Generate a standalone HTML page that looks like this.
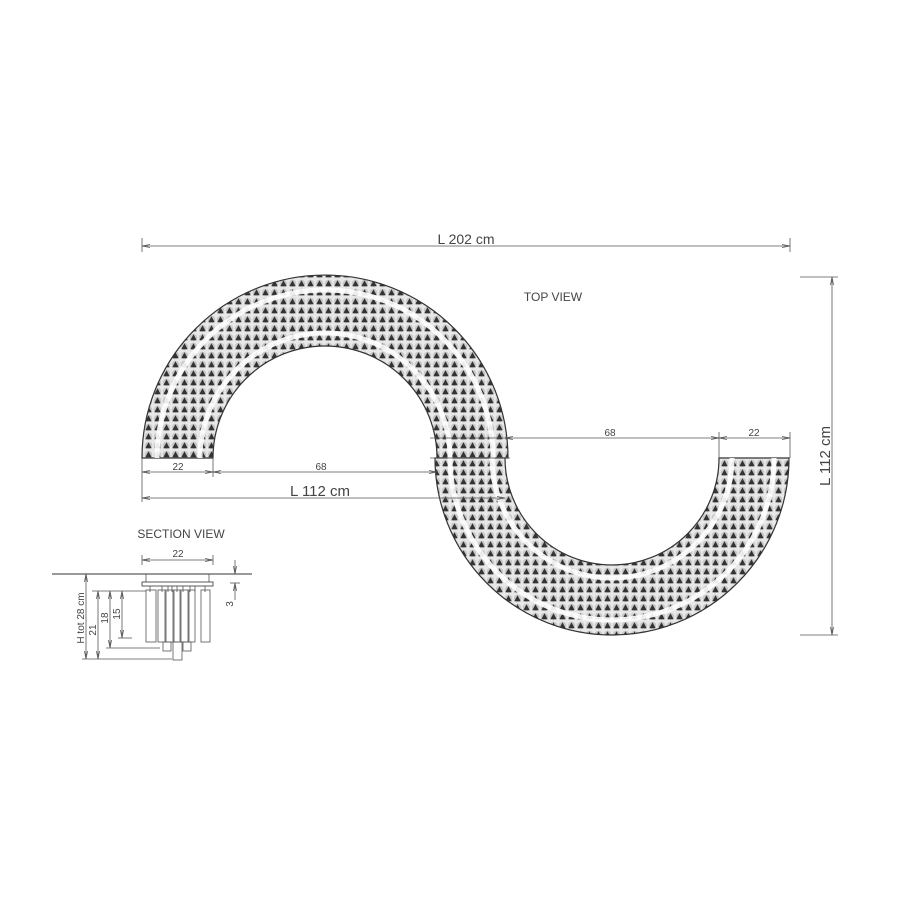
<!DOCTYPE html>
<html><head><style>body{margin:0;background:#fff}svg{display:block}text{font-family:"Liberation Sans",sans-serif;fill:#444}</style></head>
<body>
<svg width="900" height="900" viewBox="0 0 900 900" xmlns="http://www.w3.org/2000/svg">
<defs>
<pattern id="tri" width="9" height="9" patternUnits="userSpaceOnUse">
<rect width="9" height="9" fill="#e8e8e8"/>
<circle cx="4.5" cy="4.5" r="3.8" fill="#c8c8c8"/>
<path d="M1.3 7.3 L4.5 1.3 L7.7 7.3Z" fill="#333"/>
</pattern>
<marker id="a" markerWidth="8" markerHeight="6" refX="8" refY="3" orient="auto-start-reverse" markerUnits="userSpaceOnUse"><path d="M0 1.5 L8 3 L0 4.5" fill="none" stroke="#555" stroke-width="0.8"/></marker>
</defs>
<g stroke="#333" stroke-width="1.2">
<path d="M142 458 A183 183 0 0 1 508 458 L437 458 A112 112 0 0 0 213 458 Z" fill="url(#tri)"/>
<path d="M435 458 A177 177 0 0 0 789 458 L719 458 A107 107 0 0 1 505 458 Z" fill="url(#tri)"/>
</g>
<g fill="none" stroke="#fff" stroke-width="5" opacity="0.9">
<path d="M157 458 A168 168 0 0 1 493 458"/>
<path d="M200 458 A125 125 0 0 1 450 458"/>
<path d="M450 458 A162 162 0 0 0 774 458"/>
<path d="M492 458 A120 120 0 0 0 732 458"/>
</g>
<g stroke="#555" stroke-width="0.8" fill="none">
<line x1="142" y1="246" x2="790" y2="246" marker-start="url(#a)" marker-end="url(#a)"/>
<line x1="142" y1="238" x2="142" y2="252"/><line x1="790" y1="238" x2="790" y2="252"/>
<line x1="832" y1="277" x2="832" y2="635" marker-start="url(#a)" marker-end="url(#a)"/>
<line x1="800" y1="277" x2="838" y2="277"/><line x1="800" y1="635" x2="838" y2="635"/>
<line x1="142" y1="458" x2="142" y2="502"/><line x1="213" y1="458" x2="213" y2="477"/>
<line x1="142" y1="472" x2="213" y2="472" marker-start="url(#a)" marker-end="url(#a)"/>
<line x1="213" y1="472" x2="437" y2="472" marker-start="url(#a)" marker-end="url(#a)"/>
<line x1="142" y1="498" x2="505" y2="498" marker-start="url(#a)" marker-end="url(#a)"/>
<line x1="505" y1="438" x2="719" y2="438" marker-start="url(#a)" marker-end="url(#a)"/>
<line x1="719" y1="438" x2="790" y2="438" marker-start="url(#a)" marker-end="url(#a)"/>
<line x1="719" y1="432" x2="719" y2="458"/><line x1="790" y1="432" x2="790" y2="458"/>
<line x1="430" y1="458" x2="510" y2="458"/>
<line x1="430" y1="438" x2="505" y2="438"/>
</g>
<text x="466" y="244" font-size="14" text-anchor="middle">L 202 cm</text>
<text x="553" y="301" font-size="12" text-anchor="middle">TOP VIEW</text>
<text x="178" y="470" font-size="10" text-anchor="middle">22</text>
<text x="321" y="470" font-size="10" text-anchor="middle">68</text>
<text x="320" y="496" font-size="15" text-anchor="middle">L 112 cm</text>
<text x="610" y="436" font-size="10" text-anchor="middle">68</text>
<text x="754" y="436" font-size="10" text-anchor="middle">22</text>
<text transform="translate(830,456) rotate(-90)" font-size="15" text-anchor="middle">L 112 cm</text>
<text x="181" y="538" font-size="12" text-anchor="middle">SECTION VIEW</text>
<text x="178" y="557" font-size="10" text-anchor="middle">22</text>
<g stroke="#555" stroke-width="0.8" fill="none">
<line x1="142" y1="560" x2="213" y2="560" marker-start="url(#a)" marker-end="url(#a)"/>
<line x1="142" y1="555" x2="142" y2="565"/><line x1="213" y1="555" x2="213" y2="565"/>
<line x1="52" y1="574" x2="252" y2="574" stroke="#333" stroke-width="1"/>
<line x1="146" y1="574" x2="146" y2="582"/><line x1="209" y1="574" x2="209" y2="582"/>
<rect x="142" y="582" width="71" height="4" stroke="#333"/>
<rect x="146" y="590" width="10" height="52"/><rect x="158" y="590" width="7" height="52"/>
<rect x="166" y="590" width="7" height="52"/><rect x="174" y="590" width="6" height="52"/>
<rect x="181" y="590" width="7" height="52"/><rect x="189" y="590" width="6" height="52"/>
<rect x="201" y="590" width="9" height="52"/>
<rect x="163" y="642" width="8" height="9"/><rect x="183" y="642" width="8" height="9"/>
<rect x="173" y="642" width="9" height="18"/>
<path d="M150 586 V592 M162 586 V592 M168 586 V592 M172 586 V592 M177 586 V592 M183 586 V592 M190 586 V592 M195 586 V592 M205 586 V592"/>
<line x1="86" y1="574" x2="86" y2="659" marker-start="url(#a)" marker-end="url(#a)"/>
<line x1="98" y1="591" x2="98" y2="659" marker-start="url(#a)" marker-end="url(#a)"/>
<line x1="110" y1="591" x2="110" y2="648" marker-start="url(#a)" marker-end="url(#a)"/>
<line x1="122" y1="591" x2="122" y2="638" marker-start="url(#a)" marker-end="url(#a)"/>
<line x1="92" y1="591" x2="146" y2="591"/>
<line x1="82" y1="659" x2="172" y2="659"/>
<line x1="106" y1="648" x2="160" y2="648"/>
<line x1="118" y1="638" x2="132" y2="638"/>
<line x1="235" y1="560" x2="235" y2="574" marker-end="url(#a)"/>
<line x1="235" y1="600" x2="235" y2="583" marker-end="url(#a)"/>
<line x1="230" y1="583" x2="240" y2="583"/>
</g>
<text transform="translate(84,618) rotate(-90)" font-size="10" text-anchor="middle">H tot 28 cm</text>
<text transform="translate(96,630) rotate(-90)" font-size="10" text-anchor="middle">21</text>
<text transform="translate(108,618) rotate(-90)" font-size="10" text-anchor="middle">18</text>
<text transform="translate(120,614) rotate(-90)" font-size="10" text-anchor="middle">15</text>
<text transform="translate(233,604) rotate(-90)" font-size="10" text-anchor="middle">3</text>
</svg>
</body></html>
